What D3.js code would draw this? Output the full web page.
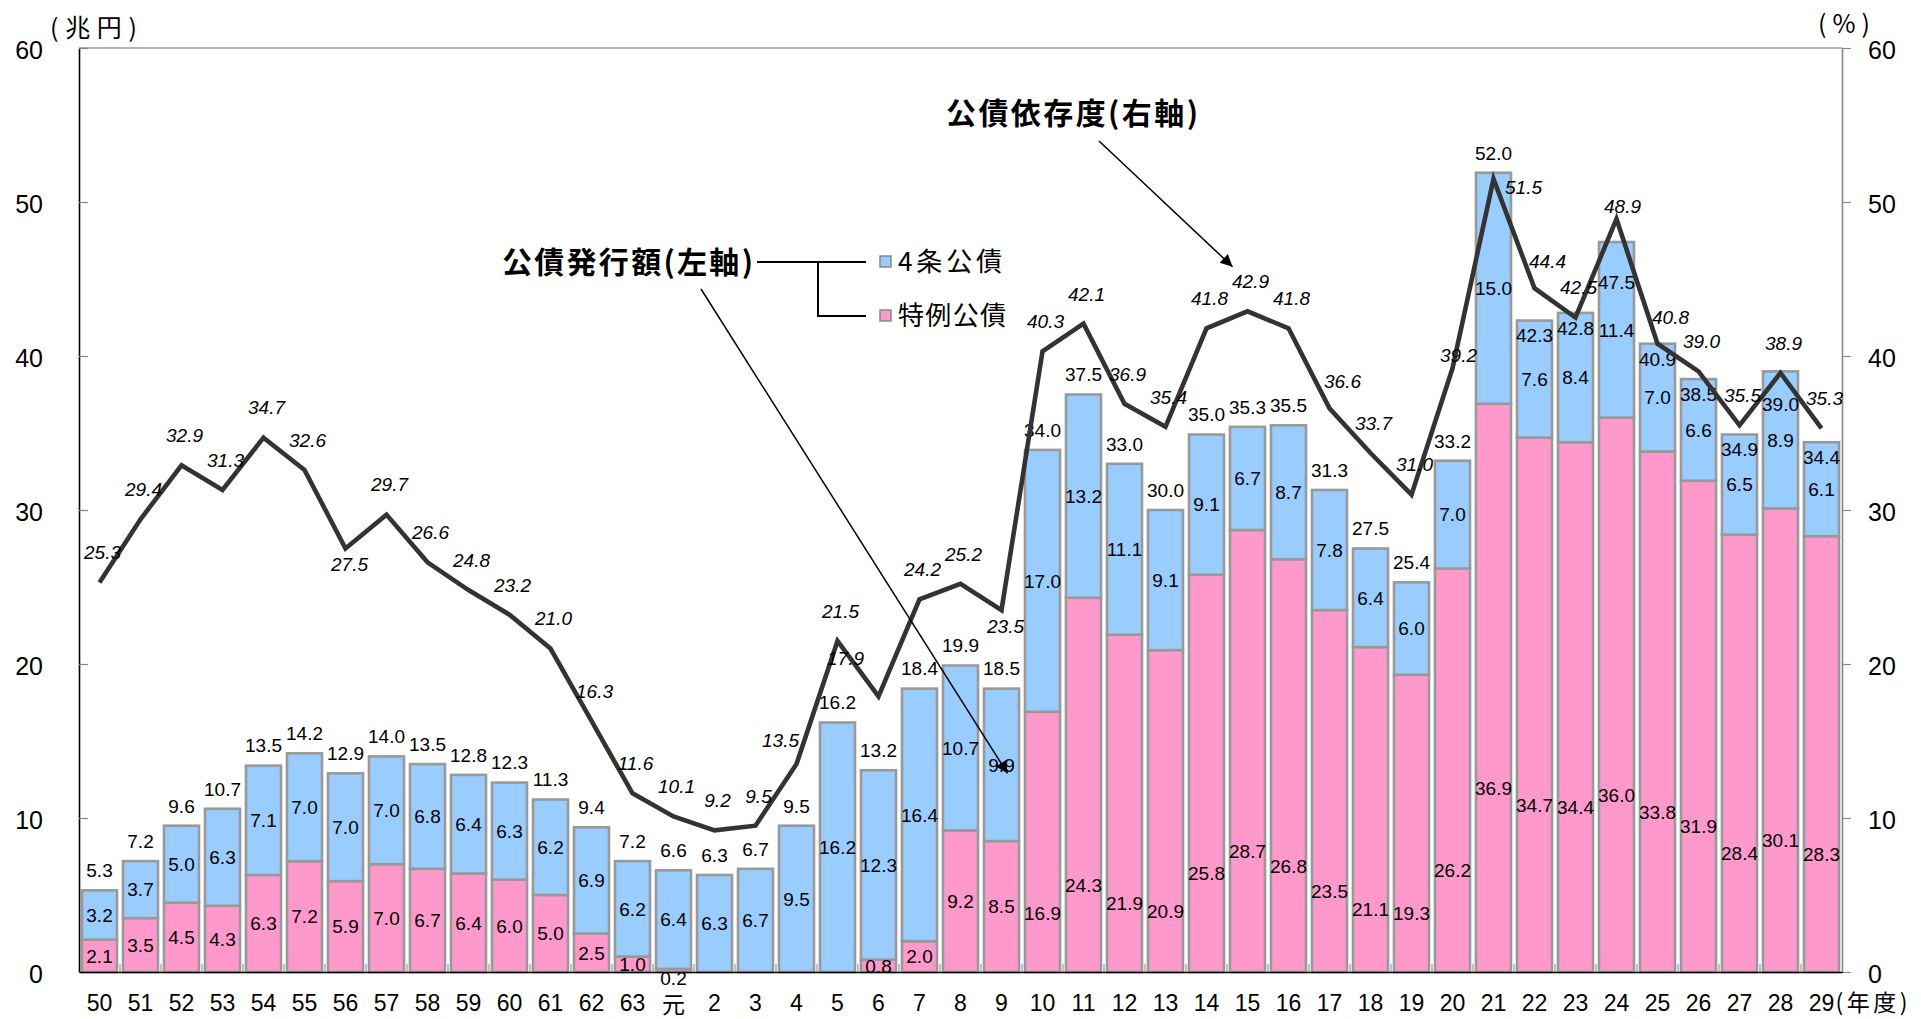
<!DOCTYPE html>
<html><head><meta charset="utf-8">
<script src="https://cdn.jsdelivr.net/npm/d3@7"></script>
<style>
body{margin:0;background:#fff}
text{font-family:"Liberation Sans",Arial,"Noto Sans CJK JP",sans-serif}
.jp{font-family:"Noto Sans CJK JP","Noto Sans CJK SC",sans-serif}
</style>
</head><body><svg id="c" width="1921" height="1019"></svg>
<script>
// ---- data ----
const years = ["50","51","52","53","54","55","56","57","58","59","60","61","62","63","元","2","3","4","5","6","7","8","9","10","11","12","13","14","15","16","17","18","19","20","21","22","23","24","25","26","27","28","29"];
const tokurei = [2.1,3.5,4.5,4.3,6.3,7.2,5.9,7.0,6.7,6.4,6.0,5.0,2.5,1.0,0.2,0,0,0,0,0.8,2.0,9.2,8.5,16.9,24.3,21.9,20.9,25.8,28.7,26.8,23.5,21.1,19.3,26.2,36.9,34.7,34.4,36.0,33.8,31.9,28.4,30.1,28.3];
const yonjo = [3.2,3.7,5.0,6.3,7.1,7.0,7.0,7.0,6.8,6.4,6.3,6.2,6.9,6.2,6.4,6.3,6.7,9.5,16.2,12.3,16.4,10.7,9.9,17.0,13.2,11.1,9.1,9.1,6.7,8.7,7.8,6.4,6.0,7.0,15.0,7.6,8.4,11.4,7.0,6.6,6.5,8.9,6.1];
const totals = [5.3,7.2,9.6,10.7,13.5,14.2,12.9,14.0,13.5,12.8,12.3,11.3,9.4,7.2,6.6,6.3,6.7,9.5,16.2,13.2,18.4,19.9,18.5,34.0,37.5,33.0,30.0,35.0,35.3,35.5,31.3,27.5,25.4,33.2,52.0,42.3,42.8,47.5,40.9,38.5,34.9,39.0,34.4];
const ratio = [25.3,29.4,32.9,31.3,34.7,32.6,27.5,29.7,26.6,24.8,23.2,21.0,16.3,11.6,10.1,9.2,9.5,13.5,21.5,17.9,24.2,25.2,23.5,40.3,42.1,36.9,35.4,41.8,42.9,41.8,36.6,33.7,31.0,39.2,51.5,44.4,42.5,48.9,40.8,39.0,35.5,38.9,35.3];
const yTicks = [0,10,20,30,40,50,60];
const seriesNames = ["4条公債","特例公債"];
// label placement codes (layout only)
const ratioLabelPlace = ["a","a","a","a","a","a","b","a","a","a","a","a","a","a","a","a","a","al","a","l","a","a","b","a","a","a","a","a","a","a","ar","a","a","c","r","ar","a","c","ar","a","a","a","a"];
const totalLabelPlace = ["o","o","o","o","o","o","o","o","o","o","o","o","o","o","o","o","o","o","o","o","o","o","o","o","o","o","o","o","o","o","o","o","o","o","o","i","i","I","i","i","i","J","i"];

// ---- layout ----
const L=79, R=1842, T=48, B=972;
const svg = d3.select("#c");
const BLUE="#99CCFF", PINK="#FF99CC", EDGE="#999999";

const x = d3.scaleBand().domain(years).range([L,R]).paddingInner(0.146).paddingOuter(0.073);
const yL = d3.scaleLinear().domain([0,60]).range([B,T]);
const yR = d3.scaleLinear().domain([0,60]).range([B,T]);
const bw = x.bandwidth(), step = x.step();
const cx = d => x(d)+bw/2;

const rows = years.map((y,i)=>({year:y, tokurei:tokurei[i], yonjo:yonjo[i]}));
const stack = d3.stack().keys(["tokurei","yonjo"])(rows);

const colors = {tokurei:PINK, yonjo:BLUE};
stack.forEach(layer=>{
  svg.append("g").selectAll("rect").data(layer.filter(d=>d[1]-d[0]>0)).join("rect")
    .attr("x",d=>x(d.data.year)).attr("width",bw)
    .attr("y",d=>yL(d[1])).attr("height",d=>yL(d[0])-yL(d[1]))
    .attr("fill",colors[layer.key]).attr("stroke",EDGE).attr("stroke-width",2.6);
});

svg.append("line").attr("x1",L).attr("x2",R).attr("y1",T).attr("y2",T).attr("stroke","#999").attr("stroke-width",1.5);

svg.append("g").selectAll("line").data(years.slice(1)).join("line")
  .attr("x1",d=>x(d)-step*0.073).attr("x2",d=>x(d)-step*0.073)
  .attr("y1",B).attr("y2",B-8).attr("stroke","#999").attr("stroke-width",1.2);

const gl = svg.append("g").attr("transform",`translate(${L},0)`)
  .call(d3.axisLeft(yL).tickValues(yTicks).tickSizeInner(-9).tickSizeOuter(0).tickPadding(36));
gl.select(".domain").attr("stroke","#000").attr("stroke-width",1.6);
gl.selectAll(".tick line").attr("stroke","#888").attr("stroke-width",1.2);
gl.selectAll(".tick text").attr("font-size",25).attr("fill","#000").attr("dy","0.42em").style("font-family","'Liberation Sans',Arial");
gl.selectAll(".tick").filter(d=>d===0).select("line").remove();

const gr = svg.append("g").attr("transform",`translate(${R},0)`)
  .call(d3.axisRight(yR).tickValues(yTicks).tickSizeInner(9).tickSizeOuter(0).tickPadding(17));
gr.select(".domain").attr("stroke","#888").attr("stroke-width",1.6);
gr.selectAll(".tick line").attr("stroke","#888").attr("stroke-width",1.2);
gr.selectAll(".tick text").attr("font-size",25).attr("fill","#000").attr("dy","0.42em").style("font-family","'Liberation Sans',Arial");

const gb = svg.append("g").attr("transform",`translate(0,${B})`)
  .call(d3.axisBottom(x).tickSize(0).tickPadding(0));
gb.select(".domain").attr("stroke","#000").attr("stroke-width",1.6);
gb.selectAll(".tick text").attr("font-size",23).attr("fill","#000").attr("y",31)
  .style("font-family",d=>d==="元"?"'Noto Sans CJK JP'":"'Liberation Sans',Arial")
  .attr("dy",d=>d==="元"?"0.42em":"0.36em");
svg.append("text").attr("class","jp").attr("x",cx("29")+14).attr("y",B+31).attr("dy","0.36em")
  .attr("font-size",23).attr("textLength",72).attr("lengthAdjust","spacing").text("(年度)");

// units
svg.append("text").attr("class","jp").attr("x",50).attr("y",28).attr("dy","0.36em").attr("font-size",25)
  .attr("textLength",87).attr("lengthAdjust","spacing").text("(兆円)");
svg.append("text").attr("class","jp").attr("x",1818).attr("y",24).attr("dy","0.36em").attr("font-size",25)
  .attr("textLength",52).attr("lengthAdjust","spacing").text("(%)");

// segment labels
const lab = svg.append("g").attr("font-size",19).attr("fill","#000").attr("text-anchor","middle");
rows.forEach((r,i)=>{
  const xc = cx(r.year);
  const p = r.tokurei;
  if (p>0){
    let pos;
    if (p<0.5) pos = yL(0)+6;
    else if (p<12) pos = yL(p/2);
    else pos = yL(Math.max((p-13)/2,3.8));
    lab.append("text").attr("x",xc).attr("y",pos).attr("dy","0.36em").text(p.toFixed(1));
  }
  const b = r.yonjo;
  lab.append("text").attr("x",xc).attr("y",yL(p+b/2)).attr("dy","0.36em").text(b.toFixed(1));
  const top = yL(p+b);
  const pl = totalLabelPlace[i];
  const ty = pl==="o"? top-20 : pl==="i"? top+15 : pl==="I"? top+40 : top+33;
  lab.append("text").attr("x",xc).attr("y",ty).attr("dy","0.36em").text(totals[i].toFixed(1));
});

// ratio line
const line = d3.line().x((d,i)=>cx(years[i])).y(d=>yR(d));
svg.append("path").datum(ratio).attr("d",line).attr("fill","none")
  .attr("stroke","#333333").attr("stroke-width",4.6).attr("stroke-linejoin","miter");

const off = {a:[3,-30], b:[4,16], al:[-16,-24], l:[-33,-38], ar:[13,-27], c:[6,-13], r:[30,8]};
svg.append("g").attr("font-size",19).attr("font-style","italic").attr("text-anchor","middle")
  .selectAll("text").data(ratio).join("text")
  .attr("x",(d,i)=>cx(years[i])+off[ratioLabelPlace[i]][0])
  .attr("y",(d,i)=>yR(d)+off[ratioLabelPlace[i]][1])
  .attr("dy","0.36em").text(d=>d.toFixed(1));

// arrows
const defs = svg.append("defs");
defs.append("marker").attr("id","ah").attr("viewBox","0 0 10 10").attr("refX",10).attr("refY",5)
  .attr("markerWidth",14).attr("markerHeight",12).attr("markerUnits","userSpaceOnUse").attr("orient","auto")
  .append("path").attr("d","M0,0L10,5L0,10z").attr("fill","#000");
svg.append("line").attr("x1",701).attr("y1",289).attr("x2",cx("9")+6).attr("y2",yL(12.9))
  .attr("stroke","#000").attr("stroke-width",1.5).attr("marker-end","url(#ah)");
svg.append("line").attr("x1",1099).attr("y1",141).attr("x2",cx("14")+26).attr("y2",yR(45.8))
  .attr("stroke","#000").attr("stroke-width",1.5).attr("marker-end","url(#ah)");

// annotation titles
svg.append("text").attr("class","jp").attr("x",502).attr("y",262).attr("dy","0.36em")
  .attr("font-size",30).attr("font-weight","bold").attr("textLength",251).attr("lengthAdjust","spacing").text("公債発行額(左軸)");
svg.append("text").attr("class","jp").attr("x",946).attr("y",113).attr("dy","0.36em")
  .attr("font-size",30).attr("font-weight","bold").attr("textLength",252).attr("lengthAdjust","spacing").text("公債依存度(右軸)");

// legend bracket
const br = svg.append("g").attr("stroke","#000").attr("stroke-width",2).attr("fill","none");
br.append("path").attr("d","M757,262H866M818,262V316H866");
const lg = svg.append("g");
[[seriesNames[0],BLUE,262],[seriesNames[1],PINK,316]].forEach(([t,c,yy])=>{
  lg.append("rect").attr("x",880).attr("y",yy-6).attr("width",11).attr("height",11)
    .attr("fill",c).attr("stroke","#888").attr("stroke-width",1.5);
  lg.append("text").attr("class","jp").attr("x",898).attr("y",yy).attr("dy","0.36em")
    .attr("font-size",26).attr("textLength",t[0]==="4"?104:108).attr("lengthAdjust","spacing").text(t);
});
</script></body></html>
